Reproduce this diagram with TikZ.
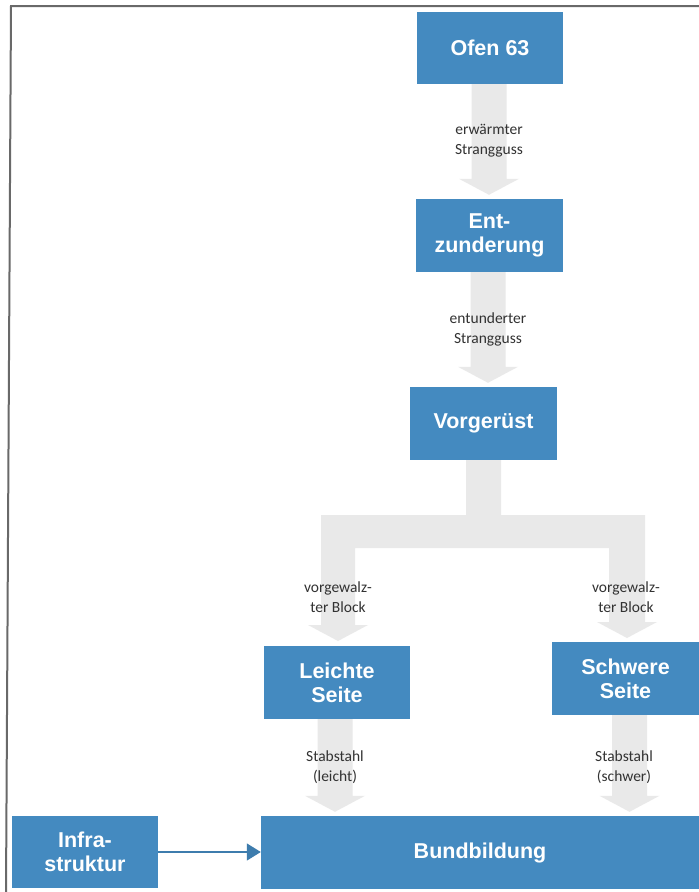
\documentclass[tikz,border=0pt]{standalone}
\usepackage{fontspec}
\setmainfont{Liberation Sans}
\newfontfamily\lblfont{Carlito}
\usetikzlibrary{calc,arrows.meta}
\definecolor{boxblue}{RGB}{68,138,192}
\definecolor{arrgray}{RGB}{233,233,233}
\definecolor{lblgray}{RGB}{50,50,50}
\definecolor{framegray}{RGB}{105,105,105}
\newcommand\blockarrow[2]{%
  \fill[arrowfill] let \p1=(#1), \p2=(#2) in
    (\x1-17.5pt,\y1) -- (\x1+17.5pt,\y1) -- (\x1+17.5pt,\y2+20pt) --
    (\x1+30pt,\y2+20pt) -- (\x1,\y2+4pt) -- (\x1-30pt,\y2+20pt) --
    (\x1-17.5pt,\y2+20pt) -- cycle;}
\begin{document}
\begin{tikzpicture}[x=1pt,y=-1pt,
  procbox/.style={fill=boxblue, text=white, inner sep=0pt, align=center,
    font=\fontsize{21.5}{24}\selectfont\bfseries, minimum height=73pt},
  arrowfill/.style={fill=arrgray},
  flowlabel/.style={text=lblgray, align=center, inner sep=0pt,
    font=\lblfont\fontsize{15.5}{20}\selectfont},
  thinarrow/.style={draw=boxblue!90!black, line width=1.3pt,
    -{Triangle[length=14pt,width=17pt]}}]
\useasboundingbox (0,0) rectangle (699,892);
\fill[white] (0,0) rectangle (699,892);
\draw[framegray, line width=2pt] (699,6) -- (11,6) -- (6,892);

% process boxes
\node[procbox, minimum width=146pt, minimum height=72pt] (ofen) at (490,48) {Ofen 63};
\node[procbox, minimum width=147pt] (entz) at (489.5,235.5) {Ent-\\zunderung};
\node[procbox, minimum width=147pt] (vorg) at (483.5,423.5) {Vorgerüst};
\node[procbox, minimum width=146pt] (leicht) at (337,682.5) {Leichte\\Seite};
\node[procbox, minimum width=147pt] (schwer) at (625.5,678.5) {Schwere\\Seite};
\node[procbox, minimum width=146pt, minimum height=72pt] (infra) at (85,852) {Infra-\\struktur};
\node[procbox, minimum width=438pt] (bund) at (480,852.5) {Bundbildung};

% arrow axes
\coordinate (c1) at (489,0);
\coordinate (c2) at (488,0);
\coordinate (c4) at (335,0);
\coordinate (c5) at (629.5,0);

\blockarrow{c1 |- ofen.south}{c1 |- entz.north}
\blockarrow{c2 |- entz.south}{c2 |- vorg.north}
\blockarrow{c4 |- leicht.south}{c4 |- bund.north}
\blockarrow{c5 |- schwer.south}{c5 |- bund.north}

% branching arrow from Vorgerüst
\fill[arrowfill] (vorg.south) ++(-17.5,0) -- ++(0,55) -- (321,515) -- (321,625)
  -- (308,625) -- (338,641) -- (368,625) -- (355,625) -- (355,548)
  -- (609,548) -- (609,622) -- (597,622) -- (627,638) -- (657,622)
  -- (645,622) -- (645,515) -- (501,515) -- (vorg.south -| 501,0) -- cycle;

% labels
\node[flowlabel] (l1) at (489,141) {erwärmter\\Strangguss};
\node[flowlabel] (l2) at (488,329) {entunderter\\Strangguss};
\node[flowlabel] (l3) at (338,597) {vorgewalz-\\ter Block};
\node[flowlabel] (l4) at (626,597) {vorgewalz-\\ter Block};
\node[flowlabel] (l5) at (335,767) {Stabstahl\\(leicht)};
\node[flowlabel] (l6) at (624,767) {Stabstahl\\(schwer)};

% infrastructure arrow
\draw[thinarrow] (infra.east) -- (infra.east -| bund.west);
\end{tikzpicture}
\end{document}
